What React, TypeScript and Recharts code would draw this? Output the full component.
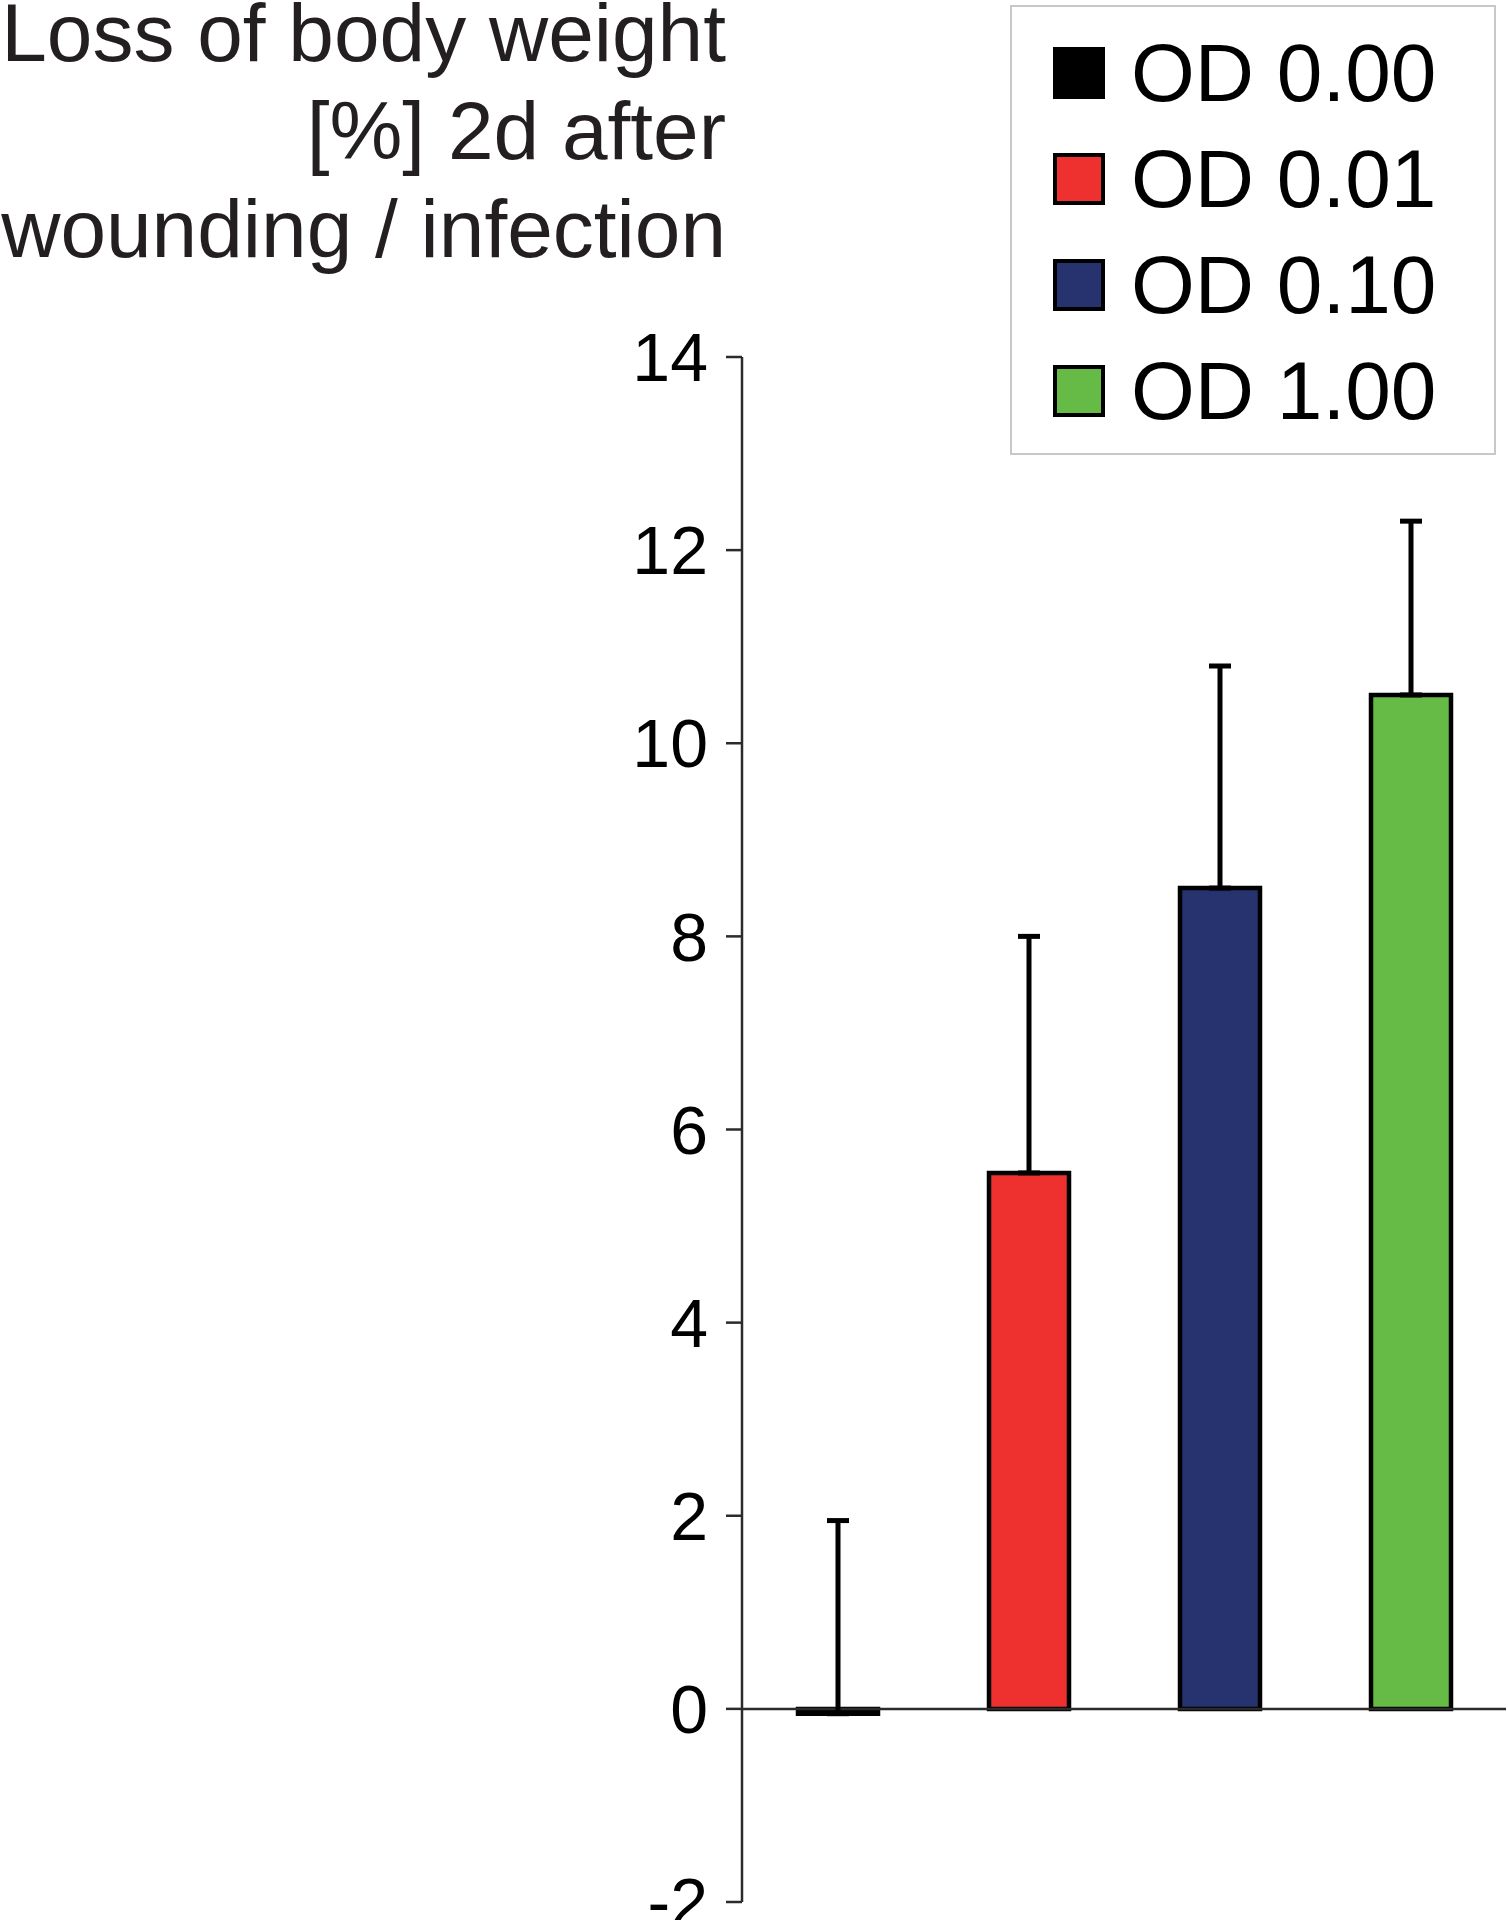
import React from 'react';
import { ComposedChart, Bar, Cell, ErrorBar, XAxis, YAxis, ReferenceLine } from 'recharts';

const groups = ['OD 0.00', 'OD 0.01', 'OD 0.10', 'OD 1.00'];
const weightLoss = [-0.05, 5.55, 8.5, 10.5];
const sdUpper = [2.0, 2.45, 2.3, 1.8];
const barColors = ['#000000', '#ee312f', '#26336e', '#66bb46'];
const yTicks = [-2, 0, 2, 4, 6, 8, 10, 12, 14];
const titleLines = ['Loss of body weight', '[%] 2d after', 'wounding / infection'];

const FONT = '"Liberation Sans", Arial, Helvetica, sans-serif';

const data = groups.map((g, i) => ({
  group: g,
  value: weightLoss[i],
  err: [0, sdUpper[i]],
}));

function Title() {
  return (
    <div
      style={{
        position: 'absolute',
        left: 0,
        top: 1,
        width: 726,
        textAlign: 'right',
        fontFamily: FONT,
        fontSize: 82,
        color: '#231f20',
        whiteSpace: 'nowrap',
      }}
    >
      {titleLines.map((l) => (
        <div key={l} style={{ height: 98, lineHeight: '64px' }}>
          {l}
        </div>
      ))}
    </div>
  );
}

function LegendBox() {
  return (
    <div
      style={{
        position: 'absolute',
        left: 1010,
        top: 5,
        width: 482,
        height: 446,
        border: '2px solid #c8c8c8',
        background: '#fff',
        fontFamily: FONT,
      }}
    >
      {groups.map((g, i) => (
        <div
          key={g}
          style={{
            position: 'absolute',
            left: 0,
            top: 13 + i * 106,
            height: 106,
            display: 'flex',
            alignItems: 'center',
          }}
        >
          <div
            style={{
              marginLeft: 41,
              width: 52,
              height: 52,
              boxSizing: 'border-box',
              background: barColors[i],
              border: '4px solid #000',
            }}
          />
          <span style={{ marginLeft: 26, fontSize: 82, lineHeight: '106px', color: '#000' }}>{g}</span>
        </div>
      ))}
    </div>
  );
}

export default function App() {
  return (
    <div style={{ position: 'absolute', left: 0, top: 0, width: 1508, height: 1920, background: '#fff' }}>
      <ComposedChart
        width={1508}
        height={1920}
        data={data}
        margin={{ top: 357, right: 2, bottom: 18, left: 600 }}
      >
        <XAxis dataKey="group" hide />
        <YAxis
          width={142}
          domain={[-2, 14]}
          ticks={yTicks}
          interval={0}
          allowDataOverflow
          axisLine={{ stroke: '#2b2b2b', strokeWidth: 2.5 }}
          tickLine={{ stroke: '#2b2b2b', strokeWidth: 2.5 }}
          tickSize={16}
          tickMargin={18}
          tick={{ fill: '#000', fontSize: 68, fontFamily: FONT }}
        />
        <ReferenceLine y={0} stroke="#2b2b2b" strokeWidth={2.5} />
        <Bar dataKey="value" barSize={80} stroke="#000" strokeWidth={4.5} isAnimationActive={false}>
          {data.map((d, i) => (
            <Cell key={d.group} fill={barColors[i]} />
          ))}
          <ErrorBar dataKey="err" direction="y" width={11} stroke="#000" strokeWidth={5} />
        </Bar>
      </ComposedChart>
      <Title />
      <LegendBox />
    </div>
  );
}
